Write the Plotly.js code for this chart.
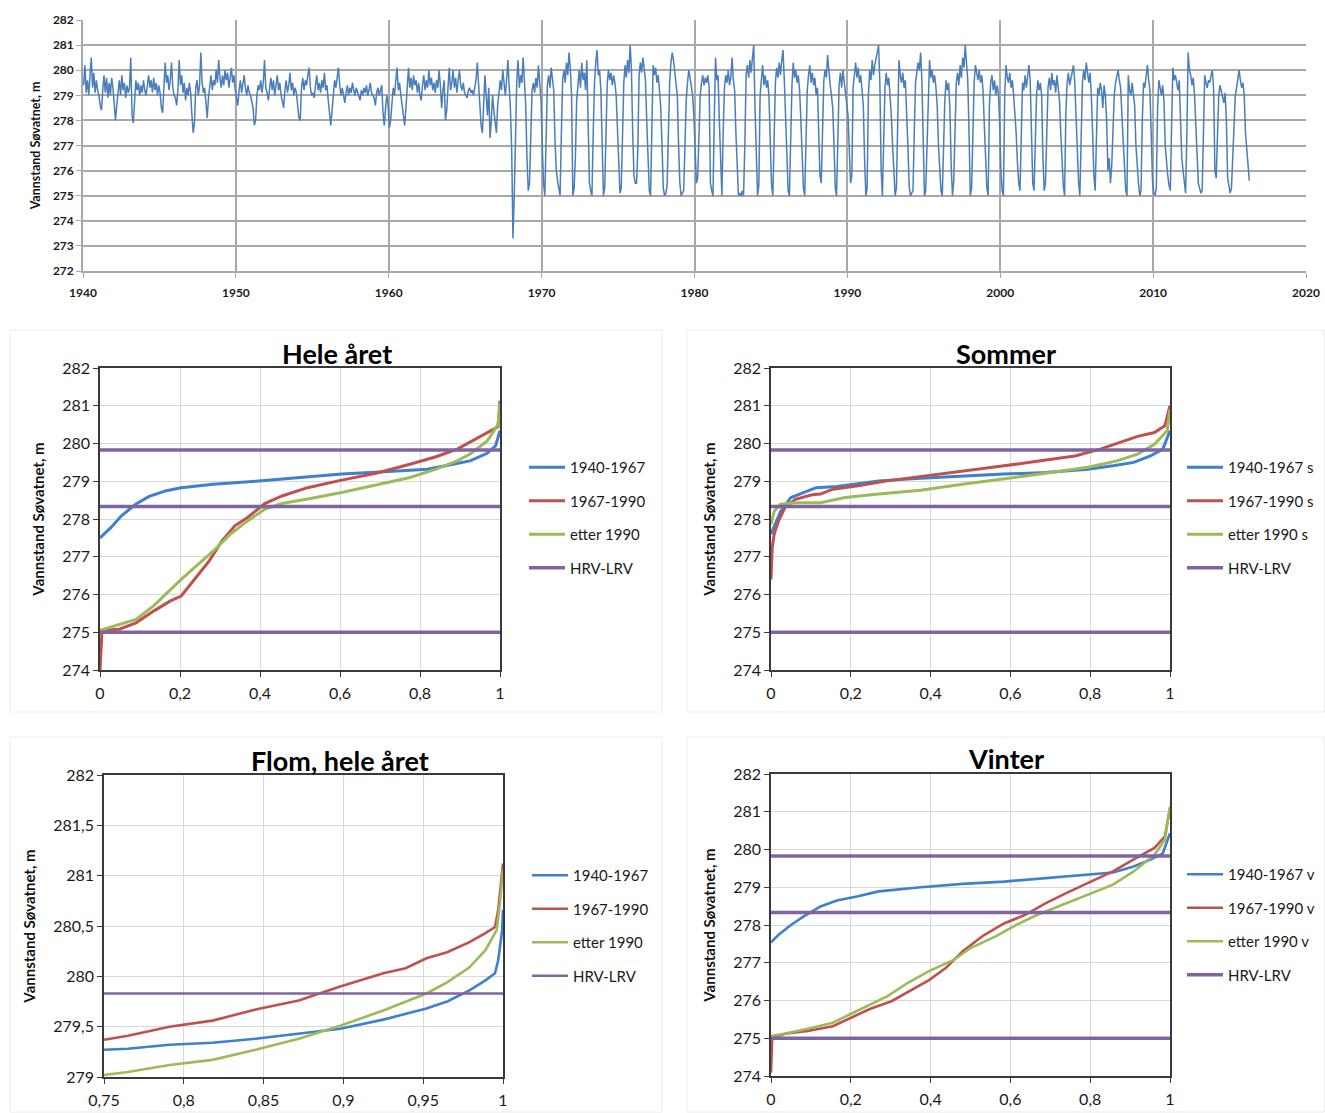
<!DOCTYPE html>
<html>
<head>
<meta charset="utf-8">
<script src="https://cdn.plot.ly/plotly-3.0.1.min.js"></script>
<style>
html,body{margin:0;padding:0;background:#fff;}
#chart{width:1325px;height:1113px;}
</style>
</head>
<body>
<div id="chart"></div>
<script>
// ---------- Top chart: water level time series (monthly readings, Jan..Dec) ----------
const level1940s = [
279.4,280.2,279.1,279.6,279.0,279.8,280.5,279.3,279.9,279.1,279.6,279.2,
279.0,278.6,278.4,279.2,279.8,279.1,279.7,278.9,279.5,279.0,279.7,279.3,
278.5,278.0,278.6,279.3,279.6,279.0,279.8,279.2,279.5,278.9,279.4,279.1,
279.3,280.5,278.2,277.9,279.0,279.6,279.2,279.5,279.0,279.4,279.1,279.6,
279.2,279.0,279.4,279.8,279.3,279.6,279.1,279.7,279.2,279.5,279.0,279.4,
279.1,278.5,278.3,279.2,280.3,279.5,279.8,279.2,279.6,280.3,279.3,279.0,
278.9,278.6,279.2,280.4,279.4,279.8,279.1,279.5,278.8,279.3,279.0,279.5,
279.1,278.2,277.5,277.9,279.3,279.6,279.0,279.4,280.7,279.5,279.1,279.3,
278.5,278.1,278.9,279.4,279.8,279.2,279.6,279.4,280.0,279.5,280.4,279.7,
279.3,279.8,279.4,280.0,279.6,279.9,279.3,279.7,280.1,279.5,279.8,279.2];
const level1950s = [
278.8,278.6,279.2,279.6,279.1,279.5,279.8,279.3,279.0,279.4,279.1,279.0,
278.8,278.5,277.8,278.0,279.0,279.4,279.2,279.6,279.1,279.5,280.4,279.3,
279.1,278.8,279.3,279.7,279.2,279.6,279.0,279.4,279.8,279.2,279.5,279.0,
278.8,278.5,279.2,279.6,279.1,279.4,279.9,279.2,279.5,279.0,279.3,279.1,
278.6,278.1,278.0,279.3,279.7,279.2,279.6,279.4,279.8,280.1,279.3,279.0,
279.1,278.9,279.4,279.8,279.2,279.5,279.1,279.6,279.3,279.9,279.2,279.4,
278.8,278.3,277.8,278.4,279.2,279.6,279.3,279.8,280.1,279.4,279.0,279.3,
279.0,278.7,279.1,279.4,279.0,279.3,279.1,279.5,279.2,279.0,279.3,279.1,
278.9,278.8,279.2,279.0,279.3,279.1,279.4,279.0,279.2,279.5,279.1,279.0,
278.9,278.6,279.1,279.3,279.0,279.2,279.4,278.3,277.8,278.5,279.0,278.6];
const level1960s = [
277.7,278.0,278.8,279.3,279.0,279.6,280.1,279.2,279.5,279.0,278.6,278.2,
277.8,278.5,279.4,280.1,279.3,279.7,279.2,279.8,279.4,279.6,279.1,279.5,
279.0,278.8,279.4,279.8,279.2,279.6,279.3,280.0,279.4,279.7,279.2,279.5,
279.1,279.6,279.3,280.0,279.4,278.5,279.2,279.6,278.0,278.4,279.3,280.1,
279.2,279.5,280.0,279.3,279.7,279.1,279.6,280.0,279.4,279.2,279.5,279.1,
279.0,278.9,279.2,279.3,279.1,279.2,279.0,279.3,279.6,280.3,279.4,278.8,
277.8,277.5,278.6,279.8,279.0,278.2,279.3,277.3,278.0,279.0,278.4,277.8,
277.5,278.6,279.3,279.6,279.2,280.0,279.5,279.0,279.6,280.4,279.4,278.5,
276.8,273.3,275.0,278.0,279.6,280.4,279.3,279.8,279.5,280.5,279.2,278.6,
276.5,275.2,275.5,277.8,279.2,279.5,279.1,279.7,279.3,280.2,279.6,278.8];
const level1970s = [
277.0,275.5,275.0,277.8,279.4,279.8,279.3,280.1,279.6,279.2,277.2,276.0,
275.6,275.2,275.0,277.5,279.6,280.0,279.5,280.3,279.8,280.7,280.1,279.0,
275.0,275.3,276.5,278.8,279.5,280.0,279.3,280.3,279.6,279.9,279.2,280.4,
278.0,275.5,275.2,275.0,277.5,279.5,280.3,280.8,279.8,280.0,279.2,277.0,
275.0,275.3,278.0,279.5,280.0,279.6,279.9,279.4,279.8,279.5,279.0,277.5,
276.0,275.1,275.3,277.5,279.5,280.2,279.7,280.4,279.9,281.0,280.0,277.5,
275.8,275.5,275.5,276.8,279.8,280.3,279.9,280.5,280.0,279.6,278.0,276.2,
275.2,275.0,278.5,280.2,279.8,280.1,279.5,279.8,279.2,278.5,277.0,275.3,
275.0,275.1,275.4,277.5,279.5,280.3,280.7,280.4,279.9,279.6,279.0,277.0,
275.5,275.0,275.1,275.2,277.0,278.8,279.5,280.0,279.7,279.3,279.0,278.2];
const level1980s = [
277.0,275.5,275.7,277.5,279.0,279.5,279.8,279.4,279.7,279.5,279.8,279.3,
275.5,275.2,275.0,278.0,280.5,279.6,279.8,278.0,276.0,275.0,277.5,279.3,
279.8,279.5,280.0,279.4,279.7,280.5,279.6,279.2,277.5,276.0,275.0,275.1,
275.0,275.2,275.0,277.0,279.8,280.2,279.7,280.4,279.9,280.5,281.0,278.5,
276.5,275.0,275.4,279.0,279.6,280.2,279.4,279.8,279.3,279.6,278.9,277.0,
275.4,275.0,277.2,279.5,280.1,279.7,280.3,279.8,280.4,280.8,279.6,277.8,
276.2,275.2,275.0,277.5,279.4,280.3,279.7,280.0,279.5,279.8,279.2,278.0,
276.5,275.3,275.0,276.8,279.2,279.8,280.2,279.5,279.9,279.4,279.7,279.0,
279.3,277.5,275.8,275.5,278.0,279.6,280.0,279.7,280.6,279.9,279.4,279.0,
278.5,277.0,275.3,275.0,277.8,279.4,279.9,279.3,280.0,279.6,279.2,278.8];
const level1990s = [
278.2,276.8,275.5,275.8,279.3,279.8,280.3,279.7,280.1,279.5,279.8,279.2,
278.6,276.5,275.0,275.3,279.0,280.0,279.6,280.4,279.8,280.2,280.5,280.8,
281.0,279.5,276.0,275.0,277.6,279.3,279.9,279.4,279.7,279.0,278.2,277.0,
276.0,275.0,275.3,278.6,280.4,279.8,279.5,279.9,279.3,279.6,278.5,277.0,
275.4,275.0,275.1,275.2,277.5,279.5,279.9,280.3,280.0,280.7,279.6,277.5,
275.0,275.2,276.8,279.3,280.4,279.7,280.0,279.5,279.8,279.3,278.6,277.0,
276.0,275.2,275.0,277.0,278.8,279.6,279.2,279.5,278.4,276.2,275.0,275.6,
277.5,279.5,279.9,279.4,280.2,279.7,280.5,280.1,281.0,280.3,279.6,277.5,
275.0,275.3,277.0,279.5,280.2,279.8,279.6,280.0,279.5,279.8,279.2,277.8,
276.4,275.3,275.0,278.6,279.5,279.8,279.2,279.6,279.0,279.4,279.1,278.0];
const level2000s = [
276.0,275.2,275.0,279.0,280.2,279.7,279.5,279.9,279.3,279.6,279.0,278.4,
277.5,276.3,275.5,275.2,277.8,279.5,279.2,279.8,279.3,279.7,280.2,279.6,
277.0,275.5,275.2,277.5,279.0,279.6,279.2,279.5,279.0,276.5,275.2,275.5,
277.8,279.3,279.7,279.2,279.9,279.4,279.6,279.1,279.8,279.3,278.8,277.5,
276.5,275.4,275.0,278.3,279.5,279.9,279.4,279.7,280.0,280.2,279.5,278.0,
276.8,275.5,275.0,276.8,279.5,280.0,279.6,280.3,279.8,279.5,279.9,279.0,
277.5,275.8,275.2,278.0,279.3,279.0,279.5,279.2,278.5,279.4,279.0,278.0,
276.0,276.5,275.5,276.2,278.0,279.0,279.5,279.8,280.0,279.6,279.3,278.2,
277.0,275.8,275.2,275.0,279.8,279.2,279.0,279.5,279.1,278.6,277.0,276.0,
275.5,275.0,275.2,278.0,279.5,279.3,279.8,280.2,279.6,279.2,277.5,275.6];
const level2010s = [
275.1,275.0,275.3,278.5,279.6,279.2,279.0,279.4,278.8,277.0,276.3,275.8,
275.4,275.2,277.8,280.1,279.6,279.8,279.5,279.2,279.6,278.0,276.5,276.0,
275.5,275.1,277.5,280.7,280.0,279.8,279.4,279.7,279.0,278.0,276.5,275.5,
275.3,275.1,275.2,277.8,279.8,279.5,279.3,279.6,279.5,279.8,280.0,279.2,
276.0,275.7,277.5,279.0,279.4,279.2,279.0,278.7,279.1,278.0,275.7,275.4,
275.1,275.3,276.8,278.2,279.0,279.3,279.6,280.0,279.6,279.3,279.5,279.0,
277.5,276.8,276.3,275.6];
const decadeStarts = [1940,1950,1960,1970,1980,1990,2000,2010];
const decadeLevels = [level1940s,level1950s,level1960s,level1970s,level1980s,level1990s,level2000s,level2010s];

// ---------- Duration curves (fraction of time vs. water level) ----------
// Hele året
const heleX_1940 = [0,0.027,0.053,0.09,0.123,0.166,0.203,0.283,0.39,0.497,0.604,0.711,0.818,0.882,0.925,0.968,0.989,1];
const heleY_1940 = [277.5,277.77,278.08,278.4,278.6,278.75,278.83,278.92,279.0,279.1,279.19,279.25,279.32,279.45,279.54,279.74,279.94,280.34];
const heleX_1967 = [0,0.003,0.005,0.048,0.09,0.134,0.176,0.203,0.241,0.273,0.305,0.337,0.369,0.412,0.455,0.519,0.604,0.69,0.775,0.84,0.893,0.925,0.968,0.995,1];
const heleY_1967 = [274.0,275.0,275.05,275.08,275.25,275.56,275.83,275.96,276.45,276.89,277.42,277.82,278.04,278.41,278.61,278.83,279.03,279.21,279.45,279.65,279.85,280.03,280.29,280.44,281.13];
const heleX_1990 = [0,0.048,0.09,0.134,0.176,0.203,0.241,0.283,0.326,0.369,0.412,0.455,0.519,0.604,0.69,0.775,0.84,0.893,0.925,0.968,0.995,1];
const heleY_1990 = [275.05,275.2,275.34,275.7,276.14,276.4,276.76,277.15,277.6,277.95,278.26,278.41,278.53,278.7,278.9,279.1,279.32,279.54,279.72,280.07,280.5,281.05];
// Sommer
const somX_1940 = [0,0.014,0.024,0.05,0.082,0.113,0.165,0.218,0.27,0.375,0.48,0.584,0.689,0.794,0.857,0.909,0.951,0.982,1];
const somY_1940 = [277.6,277.95,278.2,278.57,278.7,278.83,278.86,278.94,279.01,279.08,279.14,279.19,279.23,279.32,279.41,279.5,279.67,279.85,280.34];
const somX_1967 = [0,0.003,0.008,0.019,0.035,0.061,0.103,0.124,0.155,0.218,0.291,0.375,0.48,0.584,0.689,0.762,0.825,0.877,0.919,0.961,0.987,1];
const somY_1967 = [276.4,277.24,277.6,277.95,278.3,278.52,278.64,278.66,278.79,278.88,279.01,279.12,279.26,279.41,279.56,279.67,279.85,280.03,280.19,280.29,280.47,281.0];
const somX_1990 = [0,0.008,0.024,0.061,0.124,0.186,0.27,0.375,0.48,0.584,0.689,0.794,0.867,0.919,0.961,0.993,1];
const somY_1990 = [277.86,278.2,278.39,278.43,278.43,278.57,278.66,278.76,278.92,279.06,279.21,279.37,279.54,279.72,279.98,280.34,280.91];
// Flom, hele året
const flomX_1940 = [0.75,0.765,0.791,0.818,0.845,0.872,0.898,0.925,0.952,0.965,0.979,0.989,0.995,0.997,0.9995,1];
const flomY_1940 = [279.27,279.28,279.32,279.34,279.38,279.43,279.48,279.57,279.68,279.75,279.86,279.96,280.03,280.16,280.46,280.66];
const flomX_1967 = [0.75,0.765,0.791,0.818,0.845,0.872,0.898,0.925,0.939,0.952,0.965,0.979,0.989,0.995,0.997,1];
const flomY_1967 = [279.37,279.41,279.5,279.56,279.67,279.76,279.9,280.03,280.08,280.18,280.24,280.34,280.43,280.49,280.66,281.12];
const flomX_1990 = [0.75,0.765,0.791,0.818,0.845,0.872,0.898,0.925,0.952,0.965,0.979,0.989,0.996,0.998,1];
const flomY_1990 = [279.02,279.05,279.12,279.17,279.27,279.38,279.51,279.66,279.83,279.94,280.09,280.26,280.46,280.72,281.06];
// Vinter
const vinX_1940 = [0,0.019,0.05,0.082,0.124,0.165,0.218,0.27,0.375,0.48,0.584,0.689,0.794,0.857,0.909,0.951,0.982,1];
const vinY_1940 = [277.54,277.74,278.0,278.23,278.49,278.65,278.76,278.89,279.0,279.09,279.15,279.24,279.33,279.39,279.55,279.73,279.9,280.43];
const vinX_1967 = [0,0.003,0.04,0.092,0.155,0.197,0.249,0.302,0.343,0.396,0.438,0.48,0.532,0.584,0.637,0.689,0.741,0.794,0.857,0.909,0.961,0.987,1];
const vinY_1967 = [274.09,275.01,275.13,275.19,275.32,275.52,275.78,275.98,276.22,276.54,276.86,277.3,277.72,278.04,278.27,278.58,278.85,279.11,279.42,279.74,280.04,280.34,281.09];
const vinX_1990 = [0,0.04,0.092,0.155,0.197,0.249,0.291,0.343,0.396,0.459,0.5,0.563,0.616,0.668,0.731,0.794,0.857,0.909,0.961,0.987,1];
const vinY_1990 = [275.06,275.13,275.25,275.41,275.63,275.89,276.11,276.47,276.78,277.08,277.39,277.7,278.01,278.27,278.54,278.8,279.07,279.42,279.86,280.26,281.14];

// Regulation limits
const hrv = 279.83;
const midLimit = 278.33;
const lrv = 275.0;

const seriesNames = {
  hele: ['1940-1967','1967-1990','etter 1990','HRV-LRV'],
  som:  ['1940-1967 s','1967-1990 s','etter 1990 s','HRV-LRV'],
  flom: ['1940-1967','1967-1990','etter 1990','HRV-LRV'],
  vin:  ['1940-1967 v','1967-1990 v','etter 1990 v','HRV-LRV']
};
const panelTitles = ['Hele året','Sommer','Flom, hele året','Vinter'];
const yTitle = 'Vannstand Søvatnet, m';

// ---------- Build ----------
const W = 1325, H = 1113;
const dxp = (a,b) => [a/W, b/W];
const dyp = (t,b) => [1-b/H, 1-t/H];

const C_BLUE = '#3f7fcf', C_RED = '#c0504d', C_GREEN = '#9bbb59', C_PURPLE = '#8064a2';
const FONT = 'Lato, "Open Sans", "DejaVu Sans", sans-serif';

const tsX = [], tsY = [];
decadeLevels.forEach((arr, d) => {
  arr.forEach((v, i) => { tsX.push(decadeStarts[d] + (i + 0.5) / 12); tsY.push(v); });
});

const traces = [{
  x: tsX, y: tsY, xaxis: 'x', yaxis: 'y', type: 'scatter', mode: 'lines',
  line: {color: '#4a7ebb', width: 1.5}, showlegend: false, hoverinfo: 'x+y'
}];

function addPanel(ax, leg, names, xs, ys, limits, widths) {
  const cols = [C_BLUE, C_RED, C_GREEN];
  for (let k = 0; k < 3; k++) {
    traces.push({
      x: xs[k], y: ys[k], xaxis: 'x' + ax, yaxis: 'y' + ax, type: 'scatter', mode: 'lines',
      name: names[k], legend: leg, legendgroup: leg + k,
      line: {color: cols[k], width: widths[0]}
    });
  }
  const lx = [], ly = [];
  limits.forEach((v, i) => {
    if (i) { lx.push(null); ly.push(null); }
    lx.push(xs[0][0], xs[0][xs[0].length - 1]); ly.push(v, v);
  });
  traces.push({
    x: lx, y: ly, xaxis: 'x' + ax, yaxis: 'y' + ax, type: 'scatter', mode: 'lines',
    name: names[3], legend: leg, legendgroup: leg + 3, connectgaps: false,
    line: {color: C_PURPLE, width: widths[1]}
  });
}
addPanel(2, 'legend', seriesNames.hele, [heleX_1940, heleX_1967, heleX_1990], [heleY_1940, heleY_1967, heleY_1990], [hrv, midLimit, lrv], [3, 3.5]);
addPanel(3, 'legend2', seriesNames.som, [somX_1940, somX_1967, somX_1990], [somY_1940, somY_1967, somY_1990], [hrv, midLimit, lrv], [3, 3.5]);
addPanel(4, 'legend3', seriesNames.flom, [flomX_1940, flomX_1967, flomX_1990], [flomY_1940, flomY_1967, flomY_1990], [hrv], [2.6, 2.4]);
addPanel(5, 'legend4', seriesNames.vin, [vinX_1940, vinX_1967, vinX_1990], [vinY_1940, vinY_1967, vinY_1990], [hrv, midLimit, lrv], [2.6, 3.5]);

function panelX(dom, range, dtick, anchor) {
  return {domain: dom, range: range, dtick: dtick, anchor: anchor, showgrid: true, gridcolor: '#d9d9d9', gridwidth: 1.3,
    zeroline: false, showline: true, linecolor: '#3a3a3a', linewidth: 1.5, mirror: true,
    ticks: 'outside', ticklen: 5, tickcolor: '#3a3a3a', tickwidth: 1.2,
    tickfont: {family: FONT, size: 16, color: '#1a1a1a'}, fixedrange: true};
}
function panelY(dom, range, dtick, anchor, standoff) {
  const o = panelX(dom, range, dtick, anchor);
  o.title = {text: '<b>' + yTitle + '</b>', font: {family: FONT, size: 15, color: '#111'}, standoff: standoff};
  return o;
}
function legendAt(xpx, ypx) {
  return {x: xpx / W, y: 1 - ypx / H, xanchor: 'left', yanchor: 'top', bgcolor: 'rgba(0,0,0,0)',
    font: {family: FONT, size: 15, color: '#1a1a1a'}, tracegroupgap: 11, itemwidth: 36, traceorder: 'grouped'};
}
function titleAnn(text, xpx, ypx) {
  return {text: '<b>' + text + '</b>', x: xpx / W, y: 1 - ypx / H, xref: 'paper', yref: 'paper',
    xanchor: 'center', yanchor: 'middle', showarrow: false, font: {family: FONT, size: 27, color: '#000'}};
}
const x2 = panelX(dxp(100, 500), [0, 1], 0.2, 'y2');
const x3 = panelX(dxp(771, 1170), [0, 1], 0.2, 'y3');
const x4 = panelX(dxp(104, 503), [0.75, 1], 0.05, 'y4');
const x5 = panelX(dxp(771, 1170), [0, 1], 0.2, 'y5');
[x2, x3, x4, x5].forEach(a => { a.ticklabelstandoff = 3; });

const layout = {
  width: W, height: H, margin: {l: 0, r: 0, t: 0, b: 0}, paper_bgcolor: '#fff', plot_bgcolor: '#fff',
  separators: ', ', hovermode: 'closest', showlegend: true,
  font: {family: FONT, color: '#1a1a1a'},
  xaxis: {domain: dxp(83, 1306), range: [1940, 2020], dtick: 10, anchor: 'y', showgrid: true,
    gridcolor: '#a8a8a8', gridwidth: 1.6, zeroline: false, showline: true, linecolor: '#a8a8a8', linewidth: 1.6,
    ticks: 'outside', ticklen: 5, tickcolor: '#a8a8a8', ticklabelstandoff: 5,
    tickfont: {family: FONT, size: 12, color: '#1a1a1a', weight: 'bold'}},
  yaxis: {domain: dyp(20, 271), range: [272, 282], dtick: 1, anchor: 'x', showgrid: true,
    gridcolor: '#a8a8a8', gridwidth: 1.6, zeroline: false, showline: true, linecolor: '#a8a8a8', linewidth: 1.6,
    ticks: 'outside', ticklen: 5, tickcolor: '#a8a8a8', tickfont: {family: FONT, size: 12, color: '#1a1a1a', weight: 'bold'},
    title: {text: '<b>' + yTitle + '</b>', font: {family: FONT, size: 12.5, color: '#111'}, standoff: 10}},
  xaxis2: x2,
  yaxis2: panelY(dyp(368, 670), [274, 282], 1, 'x2', 14),
  xaxis3: x3,
  yaxis3: panelY(dyp(368, 670), [274, 282], 1, 'x3', 14),
  xaxis4: x4,
  yaxis4: panelY(dyp(775, 1077), [279, 282], 0.5, 'x4', 14),
  xaxis5: x5,
  yaxis5: panelY(dyp(774, 1076), [274, 282], 1, 'x5', 14),
  legend: legendAt(524, 451),
  legend2: legendAt(1182, 451),
  legend3: legendAt(527, 859),
  legend4: legendAt(1182, 858),
  annotations: [
    titleAnn(panelTitles[0], 337, 353),
    titleAnn(panelTitles[1], 1006, 353),
    titleAnn(panelTitles[2], 340, 760),
    titleAnn(panelTitles[3], 1006, 758)
  ],
  shapes: [
    {type: 'rect', xref: 'paper', yref: 'paper', x0: 10 / W, x1: 662 / W, y0: 1 - 712 / H, y1: 1 - 330 / H, line: {color: '#ececec', width: 1}},
    {type: 'rect', xref: 'paper', yref: 'paper', x0: 687 / W, x1: 1324 / W, y0: 1 - 712 / H, y1: 1 - 330 / H, line: {color: '#ececec', width: 1}},
    {type: 'rect', xref: 'paper', yref: 'paper', x0: 10 / W, x1: 662 / W, y0: 1 - 1112 / H, y1: 1 - 737 / H, line: {color: '#ececec', width: 1}},
    {type: 'rect', xref: 'paper', yref: 'paper', x0: 687 / W, x1: 1324 / W, y0: 1 - 1112 / H, y1: 1 - 737 / H, line: {color: '#ececec', width: 1}}
  ]
};

Plotly.newPlot('chart', traces, layout, {displayModeBar: false});
</script>
</body>
</html>
